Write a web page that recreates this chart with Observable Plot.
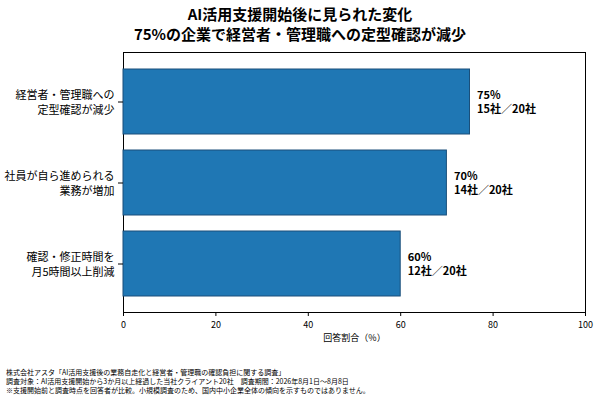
<!DOCTYPE html>
<html><head><meta charset="utf-8">
<script src="https://cdn.jsdelivr.net/npm/d3@7"></script>
<script src="https://cdn.jsdelivr.net/npm/@observablehq/plot@0.6"></script>
<style>
body{margin:0;font-family:"Noto Sans CJK JP",sans-serif;background:#fff}
#wrap{position:relative;width:600px;height:400px}
#title{position:absolute;top:4px;left:0;width:600px;text-align:center;font-weight:bold;font-size:15px;line-height:20px;color:#000}
#cap{position:absolute;top:368px;left:6px;font-size:7px;line-height:9px;color:#000;white-space:pre}
</style></head><body>
<div id="wrap"><div id="chart"></div>
<div id="title">AI活用支援開始後に見られた変化<br>75%の企業で経営者・管理職への定型確認が減少</div>
<div id="cap">株式会社アスタ「AI活用支援後の業務自走化と経営者・管理職の確認負担に関する調査」
調査対象：AI活用支援開始から3か月以上経過した当社クライアント20社　調査期間：2026年8月1日〜8月8日
※支援開始前と調査時点を回答者が比較。小規模調査のため、国内中小企業全体の傾向を示すものではありません。</div>
</div>
<script>
const categories = ["経営者・管理職への\n定型確認が減少","社員が自ら進められる\n業務が増加","確認・修正時間を\n月5時間以上削減"];
const percents = [75,70,60];
const counts = [15,14,12];
const total = 20;
const xTicks = [0,20,40,60,80,100];
const data = categories.map((c,i)=>({cat:c,pct:percents[i],l1:`${percents[i]}%`,l2:`${counts[i]}社／${total}社`}));
const chart = Plot.plot({
  width:600,height:400,marginTop:52,marginBottom:88,marginLeft:123,marginRight:15,
  style:{fontFamily:"Noto Sans CJK JP",fontSize:"9px",color:"#000"},
  x:{domain:[0,100],ticks:xTicks,label:"回答割合（%）",labelAnchor:"center",labelArrow:"none",labelOffset:28},
  y:{domain:categories,label:null,padding:0.2,tickSize:5},
  marks:[
    Plot.frame({stroke:"#000"}),
    Plot.barX(data,{x:"pct",y:"cat",fill:"#1f77b4",stroke:"#1a4f7a",strokeWidth:1}),
    Plot.text(data,{x:"pct",y:"cat",text:"l1",textAnchor:"start",dx:7,dy:-7,fontWeight:"bold",fontSize:11}),
    Plot.text(data,{x:"pct",y:"cat",text:"l2",textAnchor:"start",dx:7,dy:7,fontWeight:"bold",fontSize:11}),
    Plot.axisY({tickSize:5,fontSize:11,lineHeight:1.35,tickPadding:4,label:null}),
    Plot.axisX({ticks:xTicks,tickSize:4,label:"回答割合（%）",labelAnchor:"center",labelArrow:"none",labelOffset:28})
  ]
});
document.getElementById("chart").append(chart);
</script></body></html>
